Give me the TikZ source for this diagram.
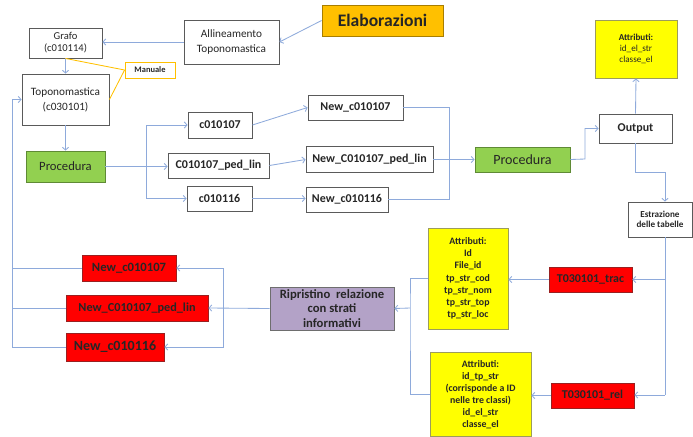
\documentclass[tikz,border=0pt]{standalone}
\usepackage{fontspec}
\setmainfont{Carlito}
\usetikzlibrary{arrows.meta}

\definecolor{inkgray}{HTML}{262626}
\definecolor{boxgray}{HTML}{5A5A5A}
\definecolor{linkblue}{HTML}{8EAADB}
\definecolor{headorange}{HTML}{FFC000}
\definecolor{headedge}{HTML}{A87E00}
\definecolor{procgreen}{HTML}{92D050}
\definecolor{procedge}{HTML}{5F8A35}
\definecolor{tabred}{HTML}{FF0000}
\definecolor{tabedge}{HTML}{9A2020}
\definecolor{attryellow}{HTML}{FFFF00}
\definecolor{attredge}{HTML}{9C9C5C}
\definecolor{ripviolet}{HTML}{B3A2C7}
\definecolor{ripedge}{HTML}{6E6E6E}

\newcommand{\fs}[2]{\fontsize{#1}{#2}\selectfont}

\begin{document}
\begin{tikzpicture}[
    x=0.025cm, y=-0.025cm,
    plainbox/.style={draw=boxgray, fill=white, text=inkgray, align=center, inner sep=1pt, line width=0.6pt},
    namebox/.style={plainbox, font=\fs{8.5}{10}\bfseries},
    headbox/.style={draw=headedge, fill=headorange, text=inkgray, inner sep=1pt, line width=0.6pt, font=\fs{12.5}{14}\bfseries},
    procbox/.style={draw=procedge, fill=procgreen, text=inkgray, inner sep=1pt, line width=0.6pt},
    redbox/.style={draw=tabedge, fill=tabred, text=inkgray, inner sep=1pt, line width=0.6pt, font=\fs{8.5}{10}\bfseries},
    attrbox/.style={draw=attredge, fill=attryellow, text=inkgray, align=center, inner sep=1pt, line width=0.6pt},
    ripbox/.style={draw=ripedge, fill=ripviolet, text=inkgray, align=center, inner sep=1pt, line width=0.6pt, font=\fs{9}{10.6}\bfseries},
    notebox/.style={draw=headorange, fill=white, text=inkgray, inner sep=1pt, line width=0.6pt, font=\fs{6}{7}\bfseries},
    plainline/.style={draw=linkblue, line width=0.6pt},
    link/.style={plainline, -{Straight Barb[length=2pt,width=4.5pt]}},
    noteline/.style={draw=headorange, line width=0.6pt}
]
\useasboundingbox (0,0) rectangle (693,436);

% upper part
\node[headbox, minimum width=3.025cm, minimum height=0.775cm] (elab) at (382.5,20.5) {Elaborazioni};
\node[plainbox, minimum width=2.375cm, minimum height=1.1cm, font=\fs{8}{10.6}] (alli) at (231.5,42) {Allineamento\\Toponomastica};
\node[plainbox, minimum width=1.825cm, minimum height=0.75cm, font=\fs{7.5}{8.5}] (grafo) at (65.5,43) {Grafo\\(c010114)};
\node[notebox, minimum width=1.25cm, minimum height=0.4cm] (manuale) at (150,70) {Manuale};
\node[plainbox, minimum width=2.175cm, minimum height=1.275cm, font=\fs{8}{10.6}] (topo) at (65.5,99.5) {Toponomastica\\(c030101)};
\node[procbox, minimum width=1.975cm, minimum height=0.775cm, font=\fs{9}{10}] (proc1) at (65.5,166.5) {Procedura};

\node[namebox, minimum width=1.6cm, minimum height=0.65cm] (c107) at (220,125) {c010107};
\node[namebox, minimum width=2.525cm, minimum height=0.625cm] (cped) at (218.5,165.5) {C010107\_ped\_lin};
\node[namebox, minimum width=1.625cm, minimum height=0.625cm] (c116) at (219.5,198.5) {c010116};

\node[namebox, minimum width=2.375cm, minimum height=0.625cm] (n107) at (355.5,107.5) {New\_c010107};
\node[namebox, minimum width=3.175cm, minimum height=0.65cm] (nped) at (369.5,159.5) {New\_C010107\_ped\_lin};
\node[namebox, minimum width=2.05cm, minimum height=0.625cm] (n116) at (347,199.5) {New\_c010116};

\node[procbox, minimum width=2.375cm, minimum height=0.625cm, font=\fs{10}{11}] (proc2) at (522.5,159.5) {Procedura};
\node[namebox, minimum width=1.825cm, minimum height=0.725cm] (output) at (635.5,128.5) {Output};
\node[attrbox, minimum width=2.05cm, minimum height=1.45cm, font=\fs{6.5}{7.8}] (attrtop) at (636,49) {\textbf{Attributi:}\\id\_el\_str\\classe\_el};
\node[plainbox, minimum width=1.6cm, minimum height=0.875cm, font=\fs{6.5}{7}\bfseries] (estr) at (660,219.5) {Estrazione\\delle tabelle};

% lower part
\node[attrbox, minimum width=2cm, minimum height=2.525cm, font=\fs{7}{8.7}\bfseries] (attrmid) at (468,278.5) {Attributi:\\Id\\File\_id\\tp\_str\_cod\\tp\_str\_nom\\tp\_str\_top\\tp\_str\_loc};
\node[redbox, minimum width=2.075cm, minimum height=0.625cm] (trac) at (590.5,279.5) {T030101\_trac};
\node[attrbox, minimum width=2.525cm, minimum height=2.1cm, font=\fs{7}{8.5}\bfseries] (attrlow) at (480.5,394.5) {Attributi:\\id\_tp\_str\\(corrisponde a ID\\nelle tre classi)\\id\_el\_str\\classe\_el};
\node[redbox, minimum width=2.075cm, minimum height=0.625cm] (rel) at (592.5,395.5) {T030101\_rel};
\node[ripbox, minimum width=3.1cm, minimum height=1.075cm] (ripr) at (332,308.5) {Ripristino\ \ relazione\\con strati\\informativi};

\node[redbox, minimum width=2.35cm, minimum height=0.65cm, font=\fs{9}{10}\bfseries] (r107) at (129,268) {New\_c010107};
\node[redbox, minimum width=3.55cm, minimum height=0.65cm, font=\fs{8.7}{10}\bfseries] (rped) at (137,308) {New\_C010107\_ped\_lin};
\node[redbox, minimum width=2.45cm, minimum height=0.7cm, font=\fs{10}{11}\bfseries] (r116) at (115,347) {New\_c010116};

% bends
\coordinate (split) at (146,166);
\coordinate (merge) at (449,159);
\coordinate (rise) at (585,159);
\coordinate (drop) at (665,172);
\coordinate (trunk) at (665,395);
\coordinate (join) at (410,308);
\coordinate (fan) at (223,308);
\coordinate (back) at (12,347);

% connectors
\draw[link] (elab.west) -- (alli.east);
\draw[link] (alli.west) -- (alli.west -| grafo.east);
\draw[link] (grafo.south) -- (topo.north);
\draw[noteline] (grafo.south) -- (manuale.west);
\draw[noteline] (topo.east) -- (manuale.west);
\draw[link] (topo.south) -- (proc1.north);
\draw[link] (proc1.east) -- (proc1.east -| cped.west);
\draw[link] (split) |- (c107.west);
\draw[link] (split) |- (c116.west);
\draw[link] (c107.east) -- (n107.west);
\draw[link] (cped.east) -- (nped.west);
\draw[link] (c116.east) -- (c116.east -| n116.west);
\draw[plainline] (n107.east) -| (merge);
\draw[plainline] (n116.east) -| (merge);
\draw[link] (nped.east) -- (nped.east -| proc2.west);
\draw[link] (proc2.east) -- (rise) |- (output.west);
\draw[link] (output.north) -- (attrtop.south);
\draw[link] (output.south) |- (drop) -- (drop |- estr.north);
\draw[plainline] (drop |- estr.south) -- (trunk);
\draw[link] (trunk |- trac.east) -- (trac.east);
\draw[link] (trunk) -- (trunk -| rel.east);
\draw[link] (trac.west) -- (trac.west -| attrmid.east);
\draw[link] (rel.west) -- (rel.west -| attrlow.east);
\draw[plainline] (attrmid.west) -| (join) |- (attrlow.west);
\draw[link] (join) -- (ripr.east);
\draw[link] (ripr.west) -- (rped.east);
\draw[link] (fan) |- (r107.east);
\draw[link] (fan) |- (r116.east);
\draw[plainline] (r107.west) -- (r107.west -| back);
\draw[plainline] (rped.west) -- (rped.west -| back);
\draw[link] (r116.west) -- (back) |- (topo.west);
\end{tikzpicture}
\end{document}
